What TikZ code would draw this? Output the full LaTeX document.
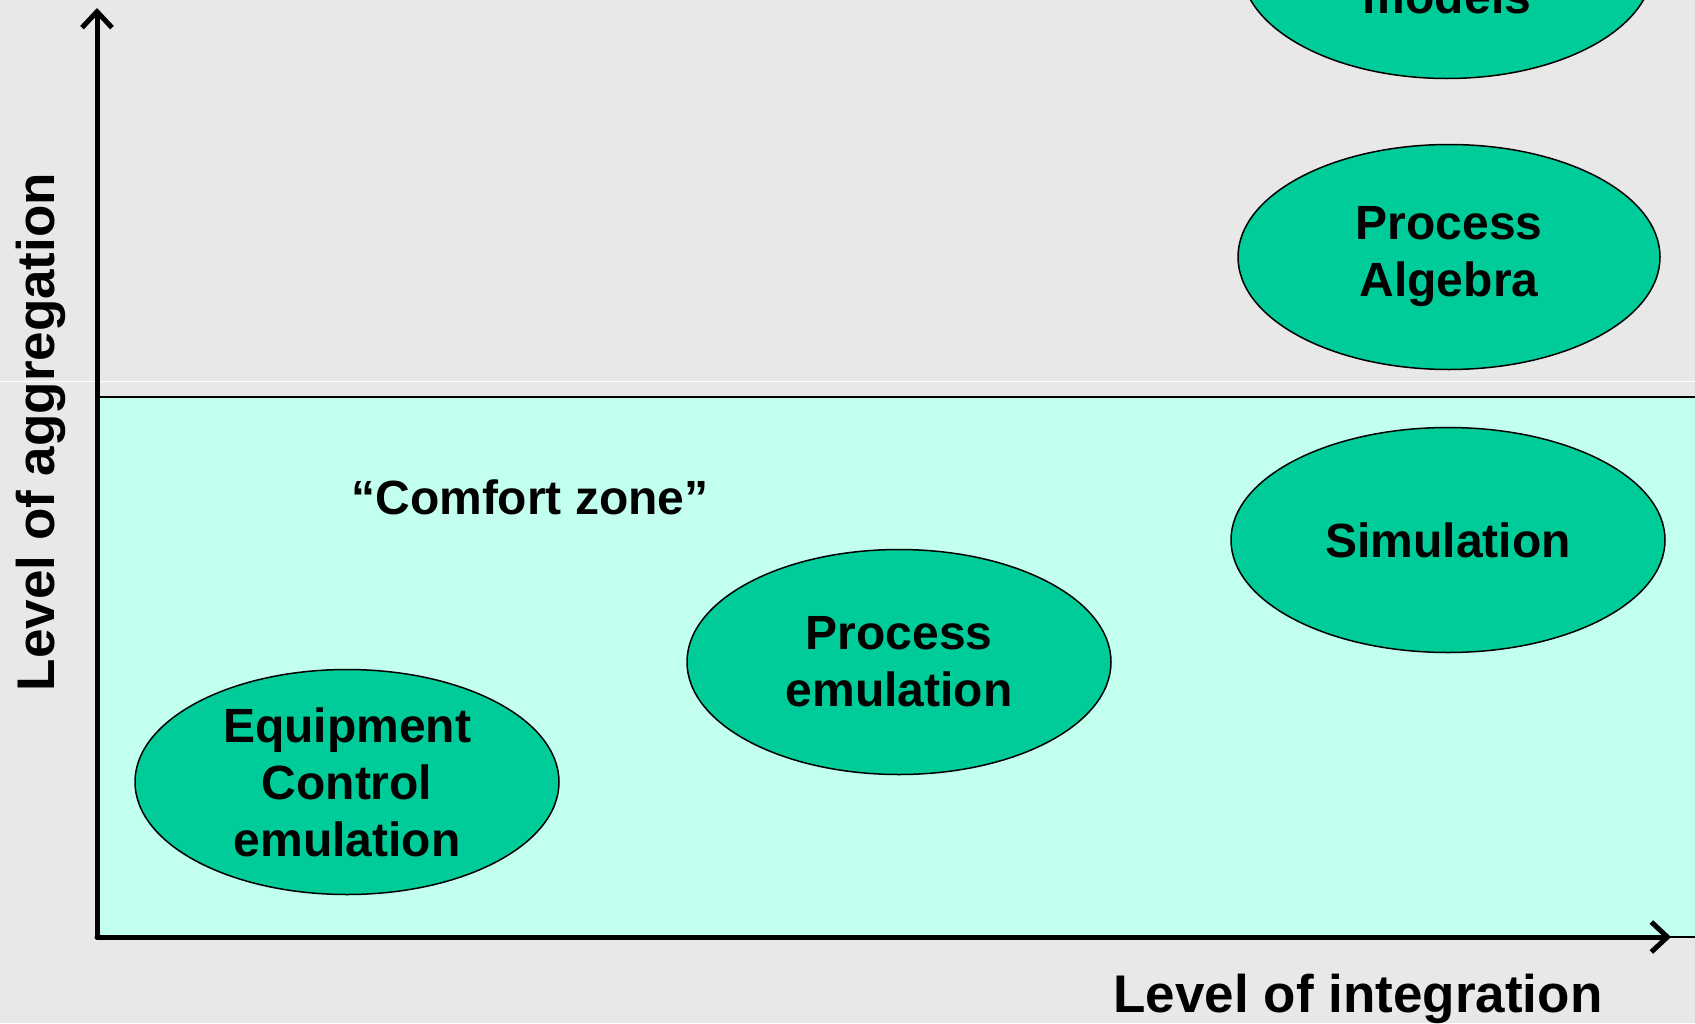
\documentclass[tikz,border=0pt]{standalone}
\usepackage{fontspec}
\setmainfont{Liberation Sans}
\usetikzlibrary{arrows.meta,shapes.geometric}

\definecolor{bggray}{HTML}{E8E8E8}
\definecolor{zonecyan}{HTML}{C2FFEE}
\definecolor{blobgreen}{HTML}{00CC99}

\begin{document}
\begin{tikzpicture}[x=1pt,y=-1pt,
    blob/.style={ellipse,draw=black,line width=1.5pt,fill=blobgreen,
      minimum width=424pt,minimum height=225pt,inner sep=0pt,align=center,
      font=\fontsize{48}{57}\selectfont\bfseries},
    axis/.style={line width=5pt,line cap=round,
      -{Straight Barb[length=16pt,width=30pt,line width=5pt]}},
    axlabel/.style={font=\fontsize{53}{62}\selectfont\bfseries}]
  % background and page frame
  \fill[bggray] (0,0) rectangle (1695,1023);
  \useasboundingbox (0,0) rectangle (1695,1023);
  \draw[white,line width=1pt] (0,381) -- (1695,381);
  % comfort zone
  \draw[fill=zonecyan,line width=1.8pt] (97,397) rectangle (1700,937);
  \node[font=\fontsize{48}{57}\selectfont\bfseries] (comfort) at (530,497) {“Comfort zone”};
  % methods
  \node[blob,minimum width=412pt] (models) at (1447,-34) {};
  \node[font=\fontsize{48}{57}\selectfont\bfseries,anchor=base] (modtext) at (1447,13) {models};
  \node[blob,minimum width=422pt] (algebra) at (1449,257) {Process\\Algebra};
  \node[blob,minimum width=434pt] (sim) at (1448,540) {Simulation};
  \node[blob] (procemu) at (899,662) {Process\\emulation};
  \node[blob] (equip) at (347,782) {Equipment\\Control\\emulation};
  % axes
  \coordinate (origin) at (97,937);
  \coordinate (ytop) at (97,8);
  \coordinate (xend) at (1671,937);
  \draw[axis] (origin) -- (ytop);
  \draw[axis] (origin) -- (xend);
  \node[axlabel,rotate=90] (ylab) at (41,432) {Level of aggregation};
  \node[axlabel] (xlab) at (1358,999) {Level of integration};
\end{tikzpicture}
\end{document}
